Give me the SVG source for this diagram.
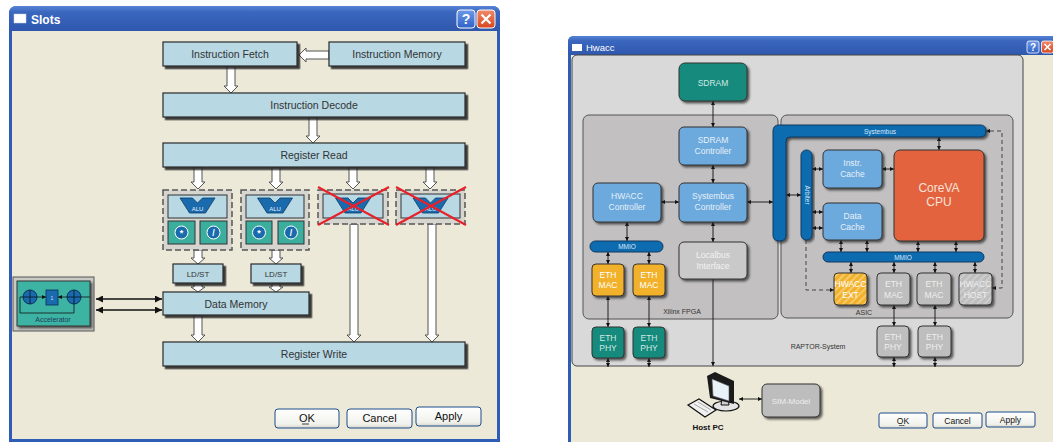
<svg xmlns="http://www.w3.org/2000/svg" width="1053" height="442" viewBox="0 0 1053 442">
  <defs>
    <style>
      .sans { font-family: "Liberation Sans", Arial, sans-serif; }
      .lb { fill: #B8D8E4; stroke: #2a2a2a; stroke-width: 1.2; filter: url(#sh); }
      .lt { font-family: "Liberation Sans", Arial, sans-serif; font-size: 10.5px; fill: #333; text-anchor: middle; }
      .lt.sm { font-size: 8px; }
      .warr { fill: #fff; stroke: #555; stroke-width: 1; }
      .slot { fill: #D6D5CF; stroke: #555; stroke-width: 1.5; stroke-dasharray: 6 3; }
      .alubox { fill: #B8D8E4; stroke: #333; stroke-width: 1; }
      .teal { fill: #3BAE9E; stroke: #333; stroke-width: 1; }
      .alu { fill: #1A6AAE; stroke: #0b3d66; stroke-width: 0.8; }
      .alut { font-family: "Liberation Sans", Arial, sans-serif; font-size: 6px; fill: #e8f2fa; text-anchor: middle; }
      .op { fill: #1A6AAE; stroke: #fff; stroke-width: 1; }
      .opt { font-family: "Liberation Sans", Arial, sans-serif; font-size: 9px; font-weight: bold; fill: #fff; text-anchor: middle; }
      .cross { stroke: #E8202A; stroke-width: 2; }
      .btn { fill: url(#btnG); stroke: #1C4C8C; stroke-width: 1; }
      .btnt { font-family: "Liberation Sans", Arial, sans-serif; fill: #111; text-anchor: middle; }
      .rb { stroke: #333; stroke-width: 1; filter: url(#sh2); }
      .blue { fill: #6CA9DD; }
      .tealR { fill: #148A7C; }
      .orange { fill: #F2B12B; }
      .grey { fill: #BEBEBE; }
      .bus { fill: #0D6CB0; stroke: #10385e; stroke-width: 1; }
      .rt { font-family: "Liberation Sans", Arial, sans-serif; font-size: 8.5px; fill: #E6F0F8; text-anchor: middle; }
      .rt.cpu { font-size: 12px; fill: #F8E2DA; }
      .rt.sim { font-size: 8px; fill: #EEE; }
      .bt { font-family: "Liberation Sans", Arial, sans-serif; font-size: 6.5px; fill: #D8E8F6; text-anchor: middle; }
      .lab { font-family: "Liberation Sans", Arial, sans-serif; font-size: 7px; fill: #333; text-anchor: middle; }
      .c { stroke: #111; stroke-width: 0.9; fill: none; marker-start: url(#a); marker-end: url(#a); }
      .c1 { stroke: #111; stroke-width: 0.9; fill: none; marker-end: url(#a); }
      .d { stroke: #444; stroke-width: 1; fill: none; stroke-dasharray: 4 3; }
      .big { stroke: #111; stroke-width: 1.6; fill: none; marker-start: url(#A); marker-end: url(#A); }
    </style>
    <filter id="sh" x="-10%" y="-20%" width="130%" height="160%">
      <feDropShadow dx="2.5" dy="2.5" stdDeviation="0.6" flood-color="#222" flood-opacity="0.85"/>
    </filter>
    <filter id="sh2" x="-10%" y="-10%" width="130%" height="130%">
      <feDropShadow dx="2" dy="2" stdDeviation="0.8" flood-color="#222" flood-opacity="0.7"/>
    </filter>
    <linearGradient id="title" x1="0" y1="0" x2="0" y2="1">
      <stop offset="0" stop-color="#5784D6"/>
      <stop offset="0.25" stop-color="#3A66BE"/>
      <stop offset="1" stop-color="#2F58AD"/>
    </linearGradient>
    <linearGradient id="btnG" x1="0" y1="0" x2="0" y2="1">
      <stop offset="0" stop-color="#FFFFFF"/>
      <stop offset="0.8" stop-color="#F1F1EC"/>
      <stop offset="1" stop-color="#D8D6CC"/>
    </linearGradient>
    <linearGradient id="closeG" x1="0" y1="0" x2="0" y2="1">
      <stop offset="0" stop-color="#F08A6A"/>
      <stop offset="1" stop-color="#D8461E"/>
    </linearGradient>
    <linearGradient id="helpG" x1="0" y1="0" x2="0" y2="1">
      <stop offset="0" stop-color="#6E99E8"/>
      <stop offset="1" stop-color="#2F62C8"/>
    </linearGradient>
    <pattern id="hatchO" width="5" height="5" patternUnits="userSpaceOnUse" patternTransform="rotate(45)">
      <rect width="5" height="5" fill="#F2B12B"/>
      <rect width="2" height="5" fill="#F6CA68"/>
    </pattern>
    <pattern id="hatchG" width="5" height="5" patternUnits="userSpaceOnUse" patternTransform="rotate(45)">
      <rect width="5" height="5" fill="#BEBEBE"/>
      <rect width="2" height="5" fill="#CDCDCD"/>
    </pattern>
    <marker id="a" viewBox="0 0 6 6" refX="6" refY="3" markerWidth="4" markerHeight="4" markerUnits="userSpaceOnUse" orient="auto-start-reverse">
      <path d="M0,0 L6,3 L0,6 z" fill="#111"/>
    </marker>
    <marker id="A" viewBox="0 0 8 8" refX="8" refY="4" markerWidth="7" markerHeight="7" markerUnits="userSpaceOnUse" orient="auto-start-reverse">
      <path d="M0,0 L8,4 L0,8 z" fill="#111"/>
    </marker>
  </defs>

  <rect width="1053" height="442" fill="#fff"/>

  <!-- ===== Slots window ===== -->
  <g id="slots-window">
    <path d="M9,14 Q9,6 17,6 L492,6 Q500,6 500,14 L500,442 L9,442 Z" fill="#2F5DB5"/>
    <path d="M9,14 Q9,6 17,6 L492,6 Q500,6 500,14 L500,31 L9,31 Z" fill="url(#title)"/>
    <rect x="12" y="31" width="485" height="408" fill="#ECE9D8"/>
    <rect x="14" y="14" width="12" height="9" fill="#fff" stroke="#c8d4ec" stroke-width="0.5"/>
    <text x="31" y="24" class="sans" font-size="12" font-weight="bold" fill="#fff">Slots</text>
    <rect x="457" y="10" width="18" height="18" rx="3" fill="url(#helpG)" stroke="#fff" stroke-width="1"/>
    <text x="466" y="24" class="sans" font-size="14" font-weight="bold" fill="#fff" text-anchor="middle">?</text>
    <rect x="477" y="10" width="18" height="18" rx="3" fill="url(#closeG)" stroke="#fff" stroke-width="1"/>
    <path d="M481.5,14.5 L490.5,23.5 M490.5,14.5 L481.5,23.5" stroke="#fff" stroke-width="2.2"/>
  </g>

  <!-- pipeline connectors (hollow arrows, bus links) -->
  <g id="slots-connectors">
    <polygon class="warr" points="329,51 329,59 306,59 306,62 299,55 306,48 306,51"/>
    <polygon class="warr" points="227,66 235,66 235,86 238,86 231,93 224,86 227,86"/>
    <polygon class="warr" points="309,117 317,117 317,136 320,136 313,143 306,136 309,136"/>
    <polygon class="warr" points="194,167 202,167 202,182 205,182 198,189 191,182 194,182"/>
    <polygon class="warr" points="272,167 280,167 280,182 283,182 276,189 269,182 272,182"/>
    <polygon class="warr" points="349,167 357,167 357,182 360,182 353,189 346,182 349,182"/>
    <polygon class="warr" points="426,167 434,167 434,182 437,182 430,189 423,182 426,182"/>
    <polygon class="warr" points="194,250 202,250 202,258 205,258 198,264 191,258 194,258"/>
    <polygon class="warr" points="272,250 280,250 280,258 283,258 276,264 269,258 272,258"/>
    <polygon class="warr" points="194,283 202,283 202,287 205,287 198,292 191,287 194,287"/>
    <polygon class="warr" points="272,283 280,283 280,287 283,287 276,292 269,287 272,287"/>
    <polygon class="warr" points="194,315 202,315 202,335 205,335 198,342 191,335 194,335"/>
    <polygon class="warr" points="350,224 358,224 358,335 361,335 354,342 347,335 350,335"/>
    <polygon class="warr" points="428,224 436,224 436,335 439,335 432,342 425,335 428,335"/>
    <line class="big" x1="96" y1="299" x2="162" y2="299"/>
    <line class="big" x1="96" y1="310" x2="162" y2="310"/>
  </g>

  <g id="instruction-fetch">
    <rect class="lb" x="163" y="42" width="134" height="24"/>
    <text class="lt" x="230" y="58">Instruction Fetch</text>
  </g>
  <g id="instruction-memory">
    <rect class="lb" x="329" y="42" width="136" height="24"/>
    <text class="lt" x="397" y="58">Instruction Memory</text>
  </g>
  <g id="instruction-decode">
    <rect class="lb" x="163" y="93" width="302" height="24"/>
    <text class="lt" x="314" y="109">Instruction Decode</text>
  </g>
  <g id="register-read">
    <rect class="lb" x="163" y="143" width="302" height="24"/>
    <text class="lt" x="314" y="159">Register Read</text>
  </g>

  <g id="slot-1">
    <rect class="slot" x="163" y="190" width="69" height="60"/>
    <rect class="alubox" x="168" y="195" width="59" height="23"/>
    <polygon class="alu" points="180,198 192.5,198 197.5,203 202.5,198 215,198 205.5,213 189.5,213"/>
    <text class="alut" x="197.5" y="211">ALU</text>
    <rect class="teal" x="168" y="221" width="27" height="23"/>
    <rect class="teal" x="200" y="221" width="27" height="23"/>
    <circle class="op" cx="181.5" cy="232.5" r="6.5"/>
    <text class="opt" x="181.5" y="236">*</text>
    <circle class="op" cx="213.5" cy="232.5" r="6.5"/>
    <text class="opt" x="213.5" y="236">/</text>
  </g>
  <g id="slot-2">
    <rect class="slot" x="241" y="190" width="68" height="60"/>
    <rect class="alubox" x="246" y="195" width="58" height="23"/>
    <polygon class="alu" points="257.5,198 270,198 275,203 280,198 292.5,198 283,213 267,213"/>
    <text class="alut" x="275" y="211">ALU</text>
    <rect class="teal" x="246" y="221" width="26" height="23"/>
    <rect class="teal" x="278" y="221" width="26" height="23"/>
    <circle class="op" cx="259" cy="232.5" r="6.5"/>
    <text class="opt" x="259" y="236">*</text>
    <circle class="op" cx="291" cy="232.5" r="6.5"/>
    <text class="opt" x="291" y="236">/</text>
  </g>
  <g id="slot-3">
    <rect class="slot" x="318" y="190" width="70" height="34"/>
    <rect class="alubox" x="323" y="194" width="60" height="24"/>
    <polygon class="alu" points="335.5,198 348,198 353,203 358,198 370.5,198 361,213 345,213"/>
    <text class="alut" x="353" y="211">ALU</text>
    <line class="cross" x1="318" y1="187" x2="389" y2="225"/>
    <line class="cross" x1="318" y1="225" x2="389" y2="187"/>
  </g>
  <g id="slot-4">
    <rect class="slot" x="396" y="190" width="69" height="34"/>
    <rect class="alubox" x="401" y="194" width="59" height="24"/>
    <polygon class="alu" points="413,198 425.5,198 430.5,203 435.5,198 448,198 438.5,213 422.5,213"/>
    <text class="alut" x="430.5" y="211">ALU</text>
    <line class="cross" x1="396" y1="187" x2="466" y2="225"/>
    <line class="cross" x1="396" y1="225" x2="466" y2="187"/>
  </g>

  <g id="ldst-1">
    <rect class="lb" x="173" y="264" width="50" height="19"/>
    <text class="lt sm" x="198" y="276.5">LD/ST</text>
  </g>
  <g id="ldst-2">
    <rect class="lb" x="251" y="264" width="50" height="19"/>
    <text class="lt sm" x="276" y="276.5">LD/ST</text>
  </g>
  <g id="data-memory">
    <rect class="lb" x="163" y="292" width="146" height="23"/>
    <text class="lt" x="236" y="307.5">Data Memory</text>
  </g>
  <g id="register-write">
    <rect class="lb" x="163" y="342" width="302" height="24"/>
    <text class="lt" x="314" y="358">Register Write</text>
  </g>

  <g id="accelerator">
    <rect x="13" y="277" width="81" height="54" fill="#C9C9C6" stroke="#555" stroke-width="1"/>
    <rect x="17" y="281" width="73" height="45" fill="#3DB3A4" stroke="#333" stroke-width="1" filter="url(#sh2)"/>
    <path d="M74,304 L74,313 L20,313 L20,297 L23,297" stroke="#111" stroke-width="0.8" fill="none"/>
    <line x1="37" y1="297" x2="46" y2="297" stroke="#111" stroke-width="0.8" marker-end="url(#a)"/>
    <line x1="67" y1="297" x2="58" y2="297" stroke="#111" stroke-width="0.8" marker-end="url(#a)"/>
    <line x1="81" y1="297" x2="90" y2="297" stroke="#111" stroke-width="0.8"/>
    <circle cx="30" cy="297" r="7" fill="#1A6AAE" stroke="#0b2f55" stroke-width="1"/>
    <path d="M30,290 L30,304 M23,297 L37,297" stroke="#0b2238" stroke-width="1"/>
    <rect x="46" y="290" width="12" height="15" fill="#1A6AAE" stroke="#0b2f55" stroke-width="0.8"/>
    <text x="52" y="300" class="sans" font-size="5" fill="#cfe3f5" text-anchor="middle">1</text>
    <circle cx="74" cy="297" r="7" fill="#1A6AAE" stroke="#0b2f55" stroke-width="1"/>
    <path d="M74,290 L74,304 M67,297 L81,297" stroke="#0b2238" stroke-width="1"/>
    <text x="53" y="322" class="sans" font-size="7" fill="#1f3b58" text-anchor="middle">Accelerator</text>
  </g>

  <g id="slots-buttons">
    <rect class="btn" x="275" y="409" width="64" height="19" rx="3" stroke-width="1.5"/>
    <text class="btnt" x="307" y="422" font-size="11">OK</text>
    <line x1="302" y1="424" x2="309" y2="424" stroke="#111" stroke-width="0.8"/>
    <rect class="btn" x="347" y="409" width="65" height="19" rx="3"/>
    <text class="btnt" x="379.5" y="422" font-size="11">Cancel</text>
    <rect class="btn" x="416" y="407" width="65" height="19" rx="3"/>
    <text class="btnt" x="448.5" y="420" font-size="11">Apply</text>
  </g>

  <!-- ===== Hwacc window ===== -->
  <g id="hwacc-window">
    <path d="M568,42 Q568,36 574,36 L1053,36 L1053,442 L568,442 Z" fill="#2F5DB5"/>
    <path d="M568,42 Q568,36 574,36 L1053,36 L1053,55 L568,55 Z" fill="url(#title)"/>
    <rect x="571" y="55" width="482" height="387" fill="#ECE9D8"/>
    <rect x="572" y="44" width="10" height="7" fill="#fff"/>
    <text x="586" y="51" class="sans" font-size="9.5" fill="#fff">Hwacc</text>
    <rect x="1027" y="41" width="12" height="12" rx="2" fill="url(#helpG)" stroke="#fff" stroke-width="0.8"/>
    <text x="1033" y="51" class="sans" font-size="10" font-weight="bold" fill="#fff" text-anchor="middle">?</text>
    <rect x="1041.5" y="41" width="12" height="12" rx="2" fill="url(#closeG)" stroke="#fff" stroke-width="0.8"/>
    <path d="M1044.5,44 L1050.5,50 M1050.5,44 L1044.5,50" stroke="#fff" stroke-width="1.6"/>
  </g>

  <g id="raptor-system">
    <rect x="572" y="55" width="451" height="311" rx="5" fill="#D9D9D9" stroke="#444" stroke-width="1"/>
    <text class="lab" x="818" y="349">RAPTOR-System</text>
  </g>
  <g id="xilinx-fpga">
    <rect x="583" y="115" width="195" height="204" rx="6" fill="#C2C0C0" stroke="#555" stroke-width="1"/>
    <text class="lab" x="682" y="314">Xilinx FPGA</text>
  </g>
  <g id="asic">
    <rect x="781" y="115" width="232" height="203" rx="6" fill="#C2C0C0" stroke="#555" stroke-width="1"/>
    <text class="lab" x="864" y="315">ASIC</text>
  </g>

  <!-- system connectors -->
  <g id="hwacc-connectors">
    <line class="c" x1="713" y1="101" x2="713" y2="127"/>
    <line class="c" x1="713" y1="165" x2="713" y2="183"/>
    <line class="c" x1="713" y1="222" x2="713" y2="242"/>
    <line class="c1" x1="713" y1="279" x2="713" y2="366"/>
    <line class="c" x1="661" y1="202" x2="679" y2="202"/>
    <line class="c" x1="627" y1="222" x2="627" y2="241"/>
    <line class="c" x1="747" y1="202" x2="773" y2="202"/>
    <line class="c" x1="608" y1="252" x2="608" y2="264"/>
    <line class="c" x1="649" y1="252" x2="649" y2="264"/>
    <line class="c" x1="608" y1="296" x2="608" y2="327"/>
    <line class="c" x1="649" y1="296" x2="649" y2="327"/>
    <line class="c" x1="608" y1="358" x2="608" y2="367"/>
    <line class="c" x1="649" y1="358" x2="649" y2="367"/>
    <line class="c" x1="939" y1="137" x2="939" y2="150"/>
    <line class="c" x1="786" y1="195" x2="801" y2="195"/>
    <line class="c" x1="812" y1="169" x2="823" y2="169"/>
    <line class="c" x1="812" y1="212" x2="823" y2="212"/>
    <line class="c" x1="812" y1="228" x2="823" y2="228"/>
    <line class="c" x1="882" y1="169" x2="894" y2="169"/>
    <line class="c" x1="841" y1="240" x2="841" y2="252"/>
    <line class="c" x1="867" y1="240" x2="867" y2="252"/>
    <line class="c" x1="918" y1="241" x2="918" y2="252"/>
    <line class="c" x1="956" y1="241" x2="956" y2="252"/>
    <line class="c" x1="851" y1="262" x2="851" y2="273"/>
    <line class="c" x1="894" y1="262" x2="894" y2="273"/>
    <line class="c" x1="935" y1="262" x2="935" y2="273"/>
    <line class="c" x1="975" y1="262" x2="975" y2="273"/>
    <line class="c" x1="894" y1="305" x2="894" y2="326"/>
    <line class="c" x1="935" y1="305" x2="935" y2="326"/>
    <line class="c" x1="894" y1="357" x2="894" y2="367"/>
    <line class="c" x1="935" y1="357" x2="935" y2="367"/>
    <path class="d" d="M806,240 L806,290 L834,290" marker-end="url(#a)"/>
    <path class="d" d="M992,288 L1002,288 L1002,131 L986,131" marker-start="url(#a)" marker-end="url(#a)"/>
    <line class="c" x1="739" y1="399" x2="762" y2="399"/>
  </g>

  <g id="sdram">
    <rect class="rb tealR" x="679" y="63" width="68" height="38" rx="6"/>
    <text class="rt" x="713" y="86" style="fill:#CFE9E3">SDRAM</text>
  </g>
  <g id="sdram-controller">
    <rect class="rb blue" x="679" y="127" width="68" height="38" rx="5"/>
    <text class="rt" x="713" y="143">SDRAM</text>
    <text class="rt" x="713" y="154">Controller</text>
  </g>
  <g id="systembus-controller">
    <rect class="rb blue" x="679" y="183" width="68" height="39" rx="5"/>
    <text class="rt" x="713" y="199">Systembus</text>
    <text class="rt" x="713" y="210">Controller</text>
  </g>
  <g id="hwacc-controller">
    <rect class="rb blue" x="593" y="183" width="68" height="39" rx="5"/>
    <text class="rt" x="627" y="199">HWACC</text>
    <text class="rt" x="627" y="210">Controller</text>
  </g>
  <g id="localbus-interface">
    <rect class="rb" x="679" y="242" width="68" height="37" rx="5" fill="#C9C9C9"/>
    <text class="rt" x="713" y="258" style="fill:#F2F2F2">Localbus</text>
    <text class="rt" x="713" y="269" style="fill:#F2F2F2">Interface</text>
  </g>
  <g id="fpga-mmio">
    <rect class="bus" x="590" y="241" width="73" height="11" rx="5.5"/>
    <text class="bt" x="627" y="249">MMIO</text>
  </g>
  <g id="fpga-eth-mac-1">
    <rect class="rb orange" x="592" y="264" width="32" height="32" rx="4"/>
    <text class="rt" x="608" y="278" style="fill:#fff">ETH</text>
    <text class="rt" x="608" y="288" style="fill:#fff">MAC</text>
  </g>
  <g id="fpga-eth-mac-2">
    <rect class="rb orange" x="633" y="264" width="32" height="32" rx="4"/>
    <text class="rt" x="649" y="278" style="fill:#fff">ETH</text>
    <text class="rt" x="649" y="288" style="fill:#fff">MAC</text>
  </g>
  <g id="eth-phy-1">
    <rect class="rb tealR" x="592" y="327" width="32" height="31" rx="4"/>
    <text class="rt" x="608" y="341" style="fill:#CFE9E3">ETH</text>
    <text class="rt" x="608" y="351" style="fill:#CFE9E3">PHY</text>
  </g>
  <g id="eth-phy-2">
    <rect class="rb tealR" x="633" y="327" width="32" height="31" rx="4"/>
    <text class="rt" x="649" y="341" style="fill:#CFE9E3">ETH</text>
    <text class="rt" x="649" y="351" style="fill:#CFE9E3">PHY</text>
  </g>

  <g id="systembus">
    <path class="bus" filter="url(#sh2)" d="M773,235 L773,131 Q773,125 779,125 L980,125 Q986,125 986,131 Q986,137 980,137 L790,137 Q786,137 786,141 L786,235 Q786,241 779.5,241 Q773,241 773,235 Z"/>
    <text class="bt" x="880" y="133.5">Systembus</text>
  </g>
  <g id="arbiter">
    <rect class="bus" x="801" y="150" width="11" height="90" rx="5.5" filter="url(#sh2)"/>
    <text class="bt" x="0" y="0" transform="translate(804.5,195) rotate(90)">Arbiter</text>
  </g>
  <g id="instr-cache">
    <rect class="rb blue" x="823" y="150" width="59" height="38" rx="5"/>
    <text class="rt" x="852.5" y="166">Instr.</text>
    <text class="rt" x="852.5" y="177">Cache</text>
  </g>
  <g id="data-cache">
    <rect class="rb blue" x="823" y="203" width="59" height="37" rx="5"/>
    <text class="rt" x="852.5" y="219">Data</text>
    <text class="rt" x="852.5" y="230">Cache</text>
  </g>
  <g id="corava-cpu">
    <rect class="rb" x="894" y="150" width="90" height="91" rx="6" fill="#E2643E"/>
    <text class="rt cpu" x="939" y="192">CoreVA</text>
    <text class="rt cpu" x="939" y="206">CPU</text>
  </g>
  <g id="asic-mmio">
    <rect class="bus" x="823" y="252" width="161" height="10" rx="5"/>
    <text class="bt" x="903" y="259.5">MMIO</text>
  </g>
  <g id="hwacc-ext">
    <rect class="rb" x="834" y="273" width="33" height="32" rx="4" fill="url(#hatchO)"/>
    <text class="rt" x="850.5" y="287" style="fill:#fff">HWACC</text>
    <text class="rt" x="850.5" y="298" style="fill:#fff">EXT</text>
  </g>
  <g id="asic-eth-mac-1">
    <rect class="rb grey" x="877" y="273" width="33" height="32" rx="4"/>
    <text class="rt" x="893.5" y="287" style="fill:#EEE">ETH</text>
    <text class="rt" x="893.5" y="298" style="fill:#EEE">MAC</text>
  </g>
  <g id="asic-eth-mac-2">
    <rect class="rb grey" x="917" y="273" width="34" height="32" rx="4"/>
    <text class="rt" x="934" y="287" style="fill:#EEE">ETH</text>
    <text class="rt" x="934" y="298" style="fill:#EEE">MAC</text>
  </g>
  <g id="hwacc-host">
    <rect class="rb" x="959" y="273" width="33" height="32" rx="4" fill="url(#hatchG)"/>
    <text class="rt" x="975.5" y="287" style="fill:#EEE">HWACC</text>
    <text class="rt" x="975.5" y="298" style="fill:#EEE">HOST</text>
  </g>
  <g id="asic-eth-phy-1">
    <rect class="rb grey" x="877" y="326" width="32" height="31" rx="4"/>
    <text class="rt" x="893" y="340" style="fill:#EEE">ETH</text>
    <text class="rt" x="893" y="350" style="fill:#EEE">PHY</text>
  </g>
  <g id="asic-eth-phy-2">
    <rect class="rb grey" x="918" y="326" width="33" height="31" rx="4"/>
    <text class="rt" x="934.5" y="340" style="fill:#EEE">ETH</text>
    <text class="rt" x="934.5" y="350" style="fill:#EEE">PHY</text>
  </g>

  <g id="host-pc">
    <ellipse cx="726" cy="406" rx="13" ry="5" fill="#E4E4E4" stroke="#111" stroke-width="1.2"/>
    <path d="M722,398 L728,398 L729,405 L721,405 Z" fill="#cfcfcf" stroke="#111" stroke-width="1"/>
    <polygon points="707,376 715,372 734,381 734,404 726,402 710,398" fill="#1a1a1a"/>
    <polygon points="712,379 729,386 729,401 713,396" fill="#E8F0F8" stroke="#555" stroke-width="0.6"/>
    <polygon points="688,405 699,399 716,410 705,417" fill="#F0F0F0" stroke="#111" stroke-width="1.2"/>
    <path d="M694,404 L708,412 M698,402 L711,410" stroke="#777" stroke-width="0.6"/>
    <text x="708" y="430" class="sans" font-size="8" font-weight="bold" fill="#111" text-anchor="middle">Host PC</text>
  </g>
  <g id="sim-model">
    <rect class="rb" x="762" y="384" width="58" height="33" rx="5" fill="#BDBDBD"/>
    <text class="rt sim" x="791" y="403.5">SIM-Model</text>
  </g>

  <g id="hwacc-buttons">
    <rect class="btn" x="879" y="413" width="48" height="15" rx="2" stroke-width="1.3"/>
    <text class="btnt" x="903" y="424" font-size="8.5">OK</text>
    <line x1="899" y1="425.5" x2="904.5" y2="425.5" stroke="#111" stroke-width="0.6"/>
    <rect class="btn" x="933" y="413" width="49" height="15" rx="2"/>
    <text class="btnt" x="957.5" y="424" font-size="8.5">Cancel</text>
    <rect class="btn" x="986" y="412" width="49" height="15" rx="2"/>
    <text class="btnt" x="1010.5" y="423" font-size="8.5">Apply</text>
  </g>
</svg>
